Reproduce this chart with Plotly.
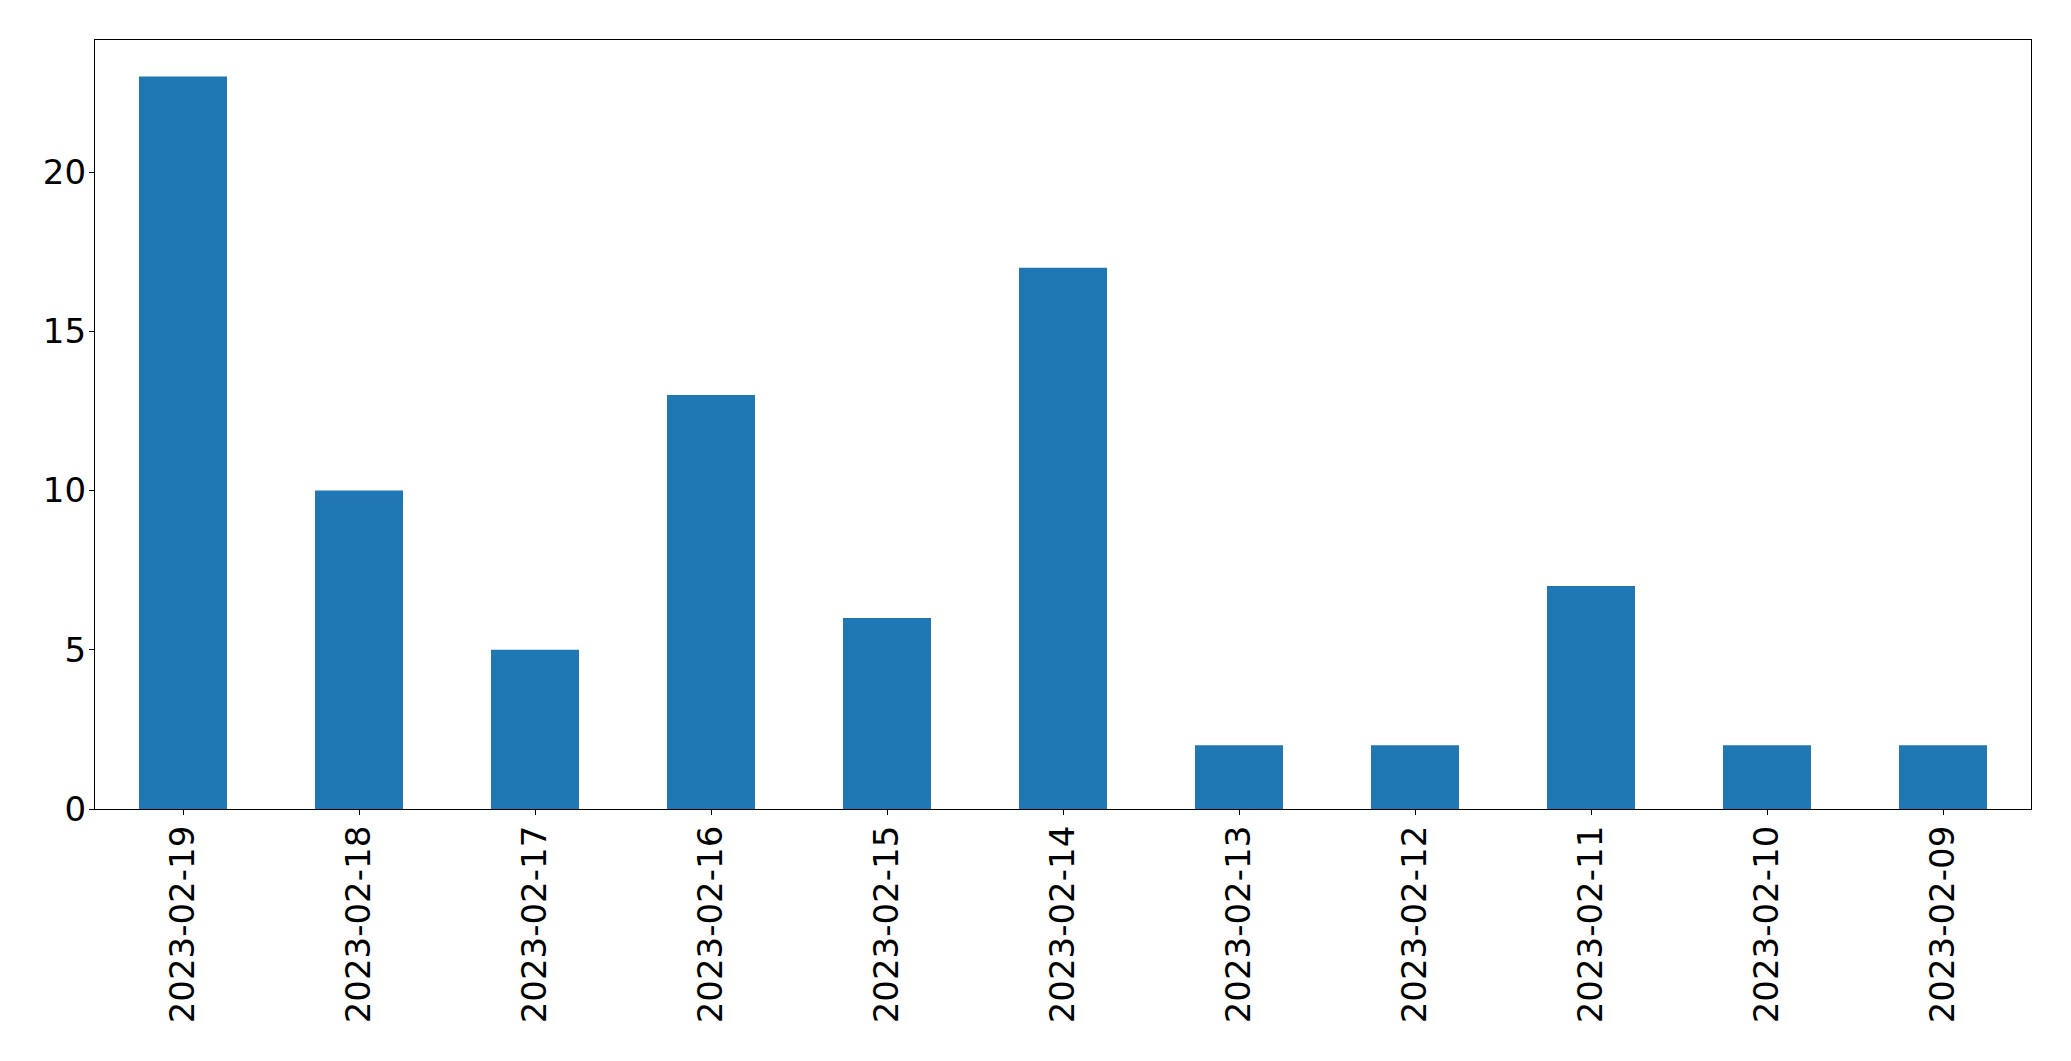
import plotly.graph_objects as go

dates = ["2023-02-19", "2023-02-18", "2023-02-17", "2023-02-16", "2023-02-15",
         "2023-02-14", "2023-02-13", "2023-02-12", "2023-02-11", "2023-02-10", "2023-02-09"]
counts = [23, 10, 5, 13, 6, 17, 2, 2, 7, 2, 2]
y_ticks = [0, 5, 10, 15, 20]

fig = go.Figure(go.Bar(x=list(range(len(dates))), y=counts, width=0.5,
                       marker=dict(color="#1f77b4", line=dict(width=0))))

font = dict(family="DejaVu Sans", size=34, color="black")
fig.update_layout(
    width=2055, height=1045,
    margin=dict(l=86.5, r=31.5, t=31.5, b=244, pad=0, autoexpand=False),
    plot_bgcolor="white", paper_bgcolor="white",
    showlegend=False, font=font,
)
fig.update_xaxes(
    range=[-0.5, len(dates) - 0.5], tickmode="array",
    tickvals=list(range(len(dates))), ticktext=dates, tickangle=-90,
    showgrid=False, zeroline=False, showline=True, linecolor="black", linewidth=1.3,
    mirror=True, ticks="outside", ticklen=5, tickwidth=1.3, tickcolor="black",
    tickfont=font, ticklabelstandoff=-3, automargin=False,
)
fig.update_yaxes(
    range=[0, 24.15], tickmode="array", tickvals=y_ticks,
    showgrid=False, zeroline=False, showline=True, linecolor="black", linewidth=1.3,
    mirror=True, ticks="outside", ticklen=5, tickwidth=1.3, tickcolor="black",
    tickfont=font, ticklabelstandoff=-4, automargin=False,
)
fig.write_html("out.html")
